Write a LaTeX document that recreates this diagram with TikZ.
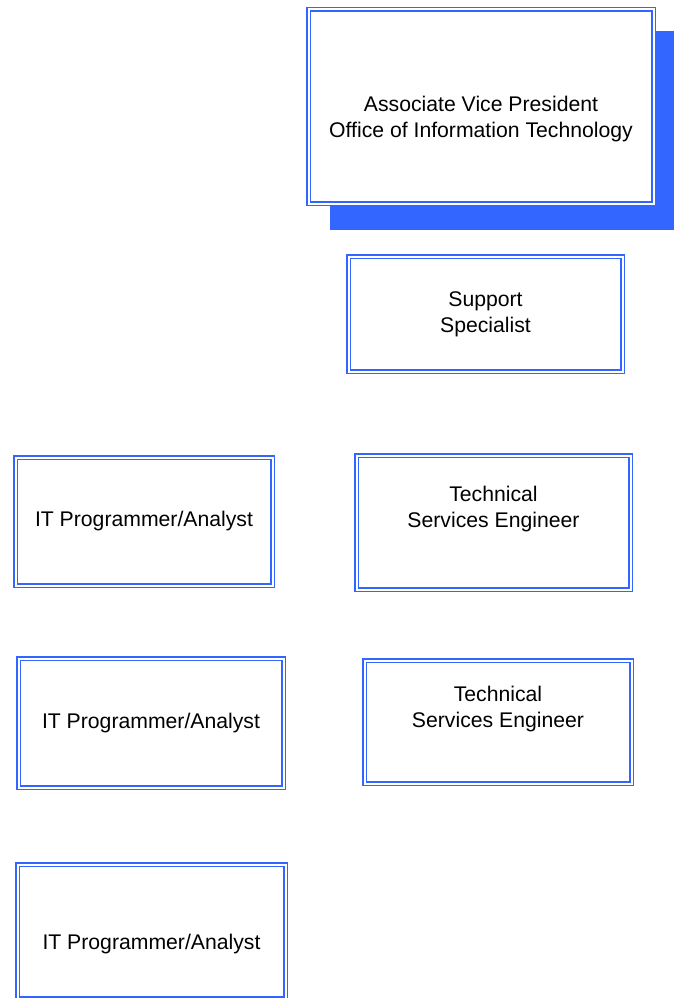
\documentclass[tikz,border=0pt]{standalone}
\usepackage{fontspec}
\setmainfont{Liberation Sans}
\usepackage{tikz}
\usetikzlibrary{backgrounds}
\definecolor{postblue}{HTML}{3366FF}

\begin{document}
\begin{tikzpicture}[x=1pt, y=-1pt,
    post/.style={draw=postblue, line width=1.8pt, double=white, double distance=2pt,
      outer sep=2.8pt, inner sep=0pt, fill=white, align=center,
      font=\fontsize{21.2}{26}\selectfont}]
    \useasboundingbox (0,0) rectangle (673,998);
    \node[post, minimum width=345, minimum height=194] (avp) at (481, 106.5) {\strut\\Associate Vice President\\Office of Information Technology\strut};
    \node[post, minimum width=274, minimum height=115] (sup) at (485.5, 314) {\strut Support\\Specialist\strut};
    \node[post, minimum width=257, minimum height=128] (pa1) at (144, 521.5) {\strut IT Programmer/Analyst};
    \node[post, minimum width=274, minimum height=134] (tse1) at (493.5, 522.5) {\strut Technical\\Services Engineer\\\strut};
    \node[post, minimum width=265, minimum height=129] (pa2) at (151, 723) {\strut IT Programmer/Analyst};
    \node[post, minimum width=267, minimum height=123] (tse2) at (498, 722) {\strut Technical\\Services Engineer\\\strut};
    \node[post, minimum width=268, minimum height=134] (pa3) at (151.5, 931.5) {\strut\\IT Programmer/Analyst\strut};
    \begin{scope}[on background layer]
      \fill[postblue] ([xshift=24pt, yshift=-24pt]avp.north west) rectangle ([xshift=24pt, yshift=-24pt]avp.south east);
    \end{scope}
  \end{tikzpicture}
\end{document}
